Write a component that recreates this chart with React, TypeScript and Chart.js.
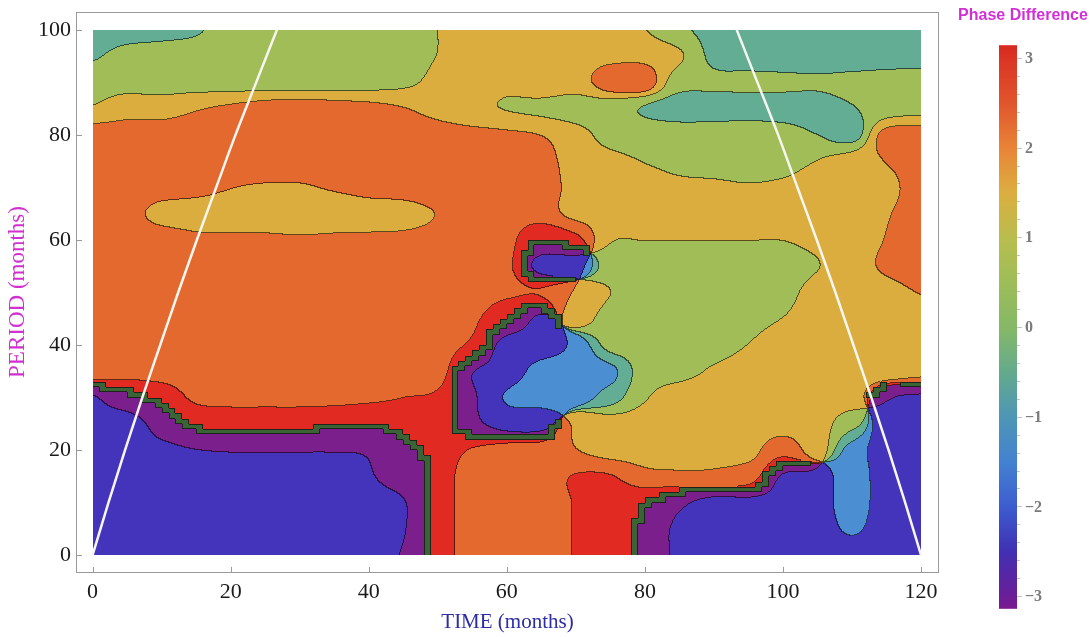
import React, { useEffect, useRef } from "react";
import { Chart, registerables } from "chart.js";

Chart.register(...registerables);

// ---------------- data ----------------
const timeKnots = [0, 5, 10, 15, 20, 25, 30, 35, 40, 45, 50, 55, 60, 65, 70, 75, 80, 85, 90, 95, 100, 105, 110, 115, 120];
const periodKnots = [100, 95, 90, 85, 80, 75, 70, 65, 60, 55, 50, 45, 40, 35, 30, 25, 20, 15, 10, 5, 0];

// phase difference (radians) read at each (period row, time column)
const phaseP100 = [-0.4, -0.4, -0.3, -0.1, 0.35, 0.4, 0.4, 0.4, 0.4, 0.5, 0.78, 1.2, 1.2, 1.2, 1.2, 1.0, 0.8, 0.2, -0.3, -0.4, -0.4, -0.4, -0.4, -0.4, -0.4];
const phaseP95 = [-0.1, 0.3, 0.4, 0.4, 0.4, 0.4, 0.4, 0.4, 0.4, 0.5, 0.8, 1.2, 1.2, 1.2, 1.2, 1.3, 1.3, 0.9, -0.2, -0.3, -0.4, -0.4, -0.4, -0.35, -0.3];
const phaseP90 = [0.5, 0.5, 0.45, 0.4, 0.4, 0.4, 0.4, 0.4, 0.45, 0.6, 1.0, 1.2, 1.0, 1.3, 1.2, 2.0, 2.0, 0.3, 0.15, 0.15, 0.15, 0.1, 0.2, 0.3, 0.35];
const phaseP85 = [0.85, 1.2, 1.2, 1.5, 1.7, 1.9, 2.0, 1.9, 1.8, 1.6, 1.3, 1.0, 0.75, 0.6, 0.4, 0.3, -0.05, -0.3, -0.3, -0.25, -0.3, -0.3, -0.05, 0.3, 0.5];
const phaseP80 = [2.0, 2.0, 2.0, 2.0, 2.0, 2.0, 2.0, 2.0, 2.0, 2.0, 1.9, 1.8, 1.7, 1.55, 1.1, 0.5, 0.4, 0.35, 0.35, 0.35, 0.3, 0.0, -0.3, 1.8, 2.0];
const phaseP75 = [2.0, 2.0, 2.0, 2.0, 2.0, 2.0, 2.0, 2.0, 2.0, 2.0, 2.0, 2.0, 2.0, 1.9, 1.2, 1.0, 0.75, 0.5, 0.4, 0.4, 0.45, 0.8, 1.2, 1.6, 2.0];
const phaseP70 = [2.0, 2.0, 2.0, 1.85, 1.6, 1.5, 1.5, 1.65, 1.8, 1.9, 2.0, 2.0, 2.0, 2.0, 1.3, 1.2, 1.2, 1.0, 0.95, 0.85, 0.95, 1.2, 1.2, 1.3, 2.0];
const phaseP65 = [2.0, 1.9, 1.3, 1.2, 1.2, 1.2, 1.2, 1.2, 1.3, 1.3, 1.6, 2.0, 2.0, 2.0, 1.3, 1.2, 1.2, 1.2, 1.2, 1.2, 1.2, 1.2, 1.2, 1.5, 2.0];
const phaseP60 = [2.0, 2.0, 2.0, 1.75, 1.7, 1.7, 1.65, 1.7, 1.7, 1.75, 1.85, 2.0, 2.1, 3.1, 2.6, 0.85, 0.8, 0.8, 0.8, 0.8, 0.8, 1.0, 1.2, 1.6, 2.0];
const phaseP55 = [2.0, 2.0, 2.0, 2.0, 2.0, 2.0, 2.0, 2.0, 2.0, 2.0, 2.0, 2.0, 2.2, -2.05, -1.85, 0.4, 0.4, 0.4, 0.4, 0.4, 0.4, 0.75, 1.2, 1.7, 2.0];
const phaseP50 = [2.0, 2.0, 2.0, 2.0, 2.0, 2.0, 2.0, 2.0, 2.0, 2.0, 2.0, 2.0, 2.2, 2.3, 1.5, 0.8, 0.4, 0.4, 0.4, 0.4, 0.5, 1.1, 1.2, 1.3, 1.6];
const phaseP45 = [2.0, 2.0, 2.0, 2.0, 2.0, 2.0, 2.0, 2.0, 2.0, 2.0, 2.0, 2.2, 3.0, -2.2, 1.2, 0.4, 0.4, 0.4, 0.4, 0.5, 0.8, 1.2, 1.2, 1.2, 1.3];
const phaseP40 = [2.0, 2.0, 2.0, 2.0, 2.0, 2.0, 2.0, 2.0, 2.0, 2.0, 2.0, 2.5, -2.0, -2.0, -1.4, 0.3, 0.4, 0.4, 0.4, 0.8, 1.2, 1.2, 1.2, 1.2, 1.2];
const phaseP35 = [1.9, 2.0, 2.0, 2.0, 2.0, 2.0, 2.0, 2.0, 2.0, 2.0, 2.0, -2.4, -2.0, -1.3, -1.2, -1.0, 0.4, 0.5, 0.9, 1.2, 1.2, 1.2, 1.2, 1.2, 1.4];
const phaseP30 = [-2.3, -2.9, 2.9, 2.2, 2.1, 2.1, 2.1, 2.1, 2.2, 2.35, 2.5, -2.5, -1.5, -1.3, -1.2, -0.4, 0.7, 1.2, 1.2, 1.2, 1.2, 1.2, 1.2, -2.4, -2.3];
const phaseP25 = [-2.2, -2.0, -2.7, 3.0, 2.9, 2.9, 2.9, 3.05, 3.1, 2.9, 2.8, -2.6, -2.0, -2.0, 1.5, 1.2, 1.2, 1.2, 1.2, 1.2, 1.2, 1.2, 0.3, -2.2, -2.2];
const phaseP20 = [-2.2, -2.2, -2.2, -2.35, -2.4, -2.4, -2.4, -2.4, -2.45, -2.9, 2.9, 2.3, 2.1, 2.0, 1.6, 1.2, 1.2, 1.2, 1.25, 1.3, 2.0, 1.2, -1.1, -2.2, -2.2];
const phaseP15 = [-2.2, -2.2, -2.2, -2.2, -2.2, -2.2, -2.2, -2.2, -2.3, -2.7, 2.9, 1.9, 2.0, 2.0, 2.4, 2.4, 1.8, 1.7, 1.7, 1.9, -2.3, -2.2, -1.0, -2.2, -2.2];
const phaseP10 = [-2.2, -2.2, -2.2, -2.2, -2.2, -2.2, -2.2, -2.2, -2.2, -2.3, 2.9, 1.9, 2.0, 2.0, 2.4, 2.8, 3.05, -2.5, -2.2, -2.2, -2.2, -2.2, -1.0, -2.2, -2.2];
const phaseP5 = [-2.2, -2.2, -2.2, -2.2, -2.2, -2.2, -2.2, -2.2, -2.2, -2.3, 2.9, 1.9, 2.0, 2.0, 2.4, 2.8, -3.0, -2.2, -2.2, -2.2, -2.2, -2.2, -1.4, -2.2, -2.2];
const phaseP0 = [-2.2, -2.2, -2.2, -2.2, -2.2, -2.2, -2.2, -2.2, -2.2, -2.4, 2.9, 1.9, 2.0, 2.0, 2.4, 2.8, -3.0, -2.2, -2.2, -2.2, -2.2, -2.2, -2.1, -2.2, -2.2];

const phaseRows = [
  phaseP100, phaseP95, phaseP90, phaseP85, phaseP80, phaseP75, phaseP70,
  phaseP65, phaseP60, phaseP55, phaseP50, phaseP45, phaseP40, phaseP35,
  phaseP30, phaseP25, phaseP20, phaseP15, phaseP10, phaseP5, phaseP0,
];

// contour band colours, from -pi (first) to +pi (last)
const bandColors = ["#7a1f8c", "#4433bb", "#4b8ed1", "#62ad94", "#a1bd58", "#dbad3f", "#e3692e", "#e02a22"];

// cone of influence
const coiPeriod = [0, 10, 20, 30, 40, 50, 60, 70, 80, 90, 100];
const coiLeftTime = [0, 2.3, 4.7, 7.2, 9.8, 12.4, 15.1, 17.9, 20.7, 23.7, 26.7];
const coiRightTime = [120, 117.7, 115.3, 112.8, 110.2, 107.6, 104.9, 102.1, 99.3, 96.3, 93.3];

const xTicks = [0, 20, 40, 60, 80, 100, 120];
const yTicks = [0, 20, 40, 60, 80, 100];
const colorbarTicks = [3, 2, 1, 0, -1, -2, -3];
const colorbarStopValues = [3.1416, 3, 2.5, 2, 1.5, 1, 0.5, 0, -0.5, -1, -1.5, -2, -2.5, -3, -3.1416];
const colorbarStopColors = ["#d8281f", "#da3424", "#e0552c", "#e98338", "#dcae3f", "#b9bd4e", "#9ebd58", "#86b866", "#64aa8c", "#4d96b6", "#4482d0", "#3d5dcf", "#4030b2", "#6a1e98", "#7c1a8e"];

// ---------------- helpers ----------------
const TWO_PI = Math.PI * 2;

function hexToRgb(h: string) {
  const n = parseInt(h.slice(1), 16);
  return [(n >> 16) & 255, (n >> 8) & 255, n & 255];
}

function catmull(a: number, b: number, c: number, d: number, u: number) {
  return b + 0.5 * u * (c - a + u * (2 * a - 5 * b + 4 * c - d + u * (3 * (b - c) + d - a)));
}

function makeSampler() {
  const nC = timeKnots.length;
  const nR = periodKnots.length;
  const cg = new Float64Array(nC * nR);
  const sg = new Float64Array(nC * nR);
  for (let r = 0; r < nR; r++) {
    for (let c = 0; c < nC; c++) {
      const v = phaseRows[r][c];
      cg[r * nC + c] = Math.cos(v);
      sg[r * nC + c] = Math.sin(v);
    }
  }
  const t0 = timeKnots[0];
  const dt = timeKnots[1] - timeKnots[0];
  const p0 = periodKnots[0];
  const dp = periodKnots[0] - periodKnots[1];
  const cl = (v: number, hi: number) => (v < 0 ? 0 : v > hi ? hi : v);
  const interp = (G: Float64Array, fc: number, fr: number) => {
    let c1 = Math.floor(fc);
    if (c1 > nC - 2) c1 = nC - 2;
    if (c1 < 0) c1 = 0;
    const u = fc - c1;
    let r1 = Math.floor(fr);
    if (r1 > nR - 2) r1 = nR - 2;
    if (r1 < 0) r1 = 0;
    const v = fr - r1;
    const ca = cl(c1 - 1, nC - 1), cb = c1, cc = c1 + 1, cd = cl(c1 + 2, nC - 1);
    const vals = [0, 0, 0, 0];
    for (let k = -1; k <= 2; k++) {
      const base = cl(r1 + k, nR - 1) * nC;
      vals[k + 1] = catmull(G[base + ca], G[base + cb], G[base + cc], G[base + cd], u);
    }
    return catmull(vals[0], vals[1], vals[2], vals[3], v);
  };
  return (t: number, p: number) => {
    const fc = (t - t0) / dt;
    const fr = (p0 - p) / dp;
    return Math.atan2(interp(sg, fc, fr), interp(cg, fc, fr));
  };
}

const sampler = makeSampler();

const fieldPlugin = {
  id: "phaseField",
  beforeDatasetsDraw(chart: any) {
    const xs = chart.scales.x;
    const ys = chart.scales.y;
    const ctx = chart.ctx;
    const tMin = timeKnots[0];
    const tMax = timeKnots[timeKnots.length - 1];
    const pMax = periodKnots[0];
    const pMin = periodKnots[periodKnots.length - 1];
    const X0 = Math.round(xs.getPixelForValue(tMin));
    const X1 = Math.round(xs.getPixelForValue(tMax));
    const Y0 = Math.round(ys.getPixelForValue(pMax));
    const Y1 = Math.round(ys.getPixelForValue(pMin));
    const W = X1 - X0;
    const H = Y1 - Y0;
    const nB = bandColors.length;
    const bw = TWO_PI / nB;

    // coarse 1x1 lattice: mark cells that straddle the +-pi branch cut
    const nT = Math.round(tMax - tMin);
    const nP = Math.round(pMax - pMin);
    const lat = new Float64Array((nT + 1) * (nP + 1));
    for (let j = 0; j <= nP; j++) for (let i = 0; i <= nT; i++) lat[j * (nT + 1) + i] = sampler(tMin + i, pMin + j);
    const wrapCell = new Uint8Array(nT * nP);
    for (let j = 0; j < nP; j++) {
      for (let i = 0; i < nT; i++) {
        const a = lat[j * (nT + 1) + i], b = lat[j * (nT + 1) + i + 1];
        const c = lat[(j + 1) * (nT + 1) + i], d = lat[(j + 1) * (nT + 1) + i + 1];
        const mx = Math.max(a, b, c, d), mn = Math.min(a, b, c, d);
        if (mx > 2.0 && mn < -2.0) wrapCell[j * nT + i] = 1;
      }
    }

    const tx = new Float64Array(W);
    for (let x = 0; x < W; x++) tx[x] = xs.getValueForPixel(X0 + x + 0.5);
    const band = new Int8Array(W * H);
    const wrap = new Uint8Array(W * H);
    for (let y = 0; y < H; y++) {
      const p = ys.getValueForPixel(Y0 + y + 0.5);
      let pj = Math.floor(p - pMin);
      if (pj < 0) pj = 0;
      if (pj > nP - 1) pj = nP - 1;
      for (let x = 0; x < W; x++) {
        const t = tx[x];
        const ph = sampler(t, p);
        let b = Math.floor((ph + Math.PI) / bw);
        if (b < 0) b = 0;
        if (b > nB - 1) b = nB - 1;
        band[y * W + x] = b;
        let ti = Math.floor(t - tMin);
        if (ti < 0) ti = 0;
        if (ti > nT - 1) ti = nT - 1;
        wrap[y * W + x] = wrapCell[pj * nT + ti];
      }
    }

    const rgb = bandColors.map(hexToRgb);
    const wIn = hexToRgb("#3a6336");
    const wEdge = hexToRgb("#1c2419");
    const img = new ImageData(W, H);
    const d = img.data;
    for (let y = 0; y < H; y++) {
      for (let x = 0; x < W; x++) {
        const k = y * W + x;
        let col: number[];
        let f = 1;
        if (wrap[k]) {
          const edge =
            (x > 0 && !wrap[k - 1]) || (x < W - 1 && !wrap[k + 1]) ||
            (y > 0 && !wrap[k - W]) || (y < H - 1 && !wrap[k + W]);
          col = edge ? wEdge : wIn;
        } else {
          const b = band[k];
          col = rgb[b];
          const line =
            (x < W - 1 && band[k + 1] !== b && !wrap[k + 1]) ||
            (y < H - 1 && band[k + W] !== b && !wrap[k + W]);
          if (line) f = 0.42;
        }
        d[4 * k] = col[0] * f;
        d[4 * k + 1] = col[1] * f;
        d[4 * k + 2] = col[2] * f;
        d[4 * k + 3] = 255;
      }
    }
    const off = document.createElement("canvas");
    off.width = W;
    off.height = H;
    (off.getContext("2d") as CanvasRenderingContext2D).putImageData(img, 0, 0);
    ctx.drawImage(off, X0, Y0);
  },
};

const decorPlugin = {
  id: "decor",
  afterDraw(chart: any) {
    const ctx: CanvasRenderingContext2D = chart.ctx;
    const ca = chart.chartArea;
    const xs = chart.scales.x;
    const ys = chart.scales.y;
    ctx.save();
    // frame
    ctx.strokeStyle = "#9a9a9a";
    ctx.lineWidth = 1;
    ctx.strokeRect(ca.left + 0.5, ca.top + 0.5, ca.right - ca.left - 1, ca.bottom - ca.top - 1);
    ctx.beginPath();
    for (const v of xTicks) {
      const x = Math.round(xs.getPixelForValue(v)) + 0.5;
      ctx.moveTo(x, ca.bottom - 1);
      ctx.lineTo(x, ca.bottom - 6);
    }
    for (const v of yTicks) {
      const y = Math.round(ys.getPixelForValue(v)) + 0.5;
      ctx.moveTo(ca.left + 1, y);
      ctx.lineTo(ca.left + 6, y);
    }
    ctx.stroke();

    // axis titles
    ctx.fillStyle = "#2c2ca6";
    ctx.font = "21px 'Liberation Serif', 'Times New Roman', serif";
    ctx.textAlign = "center";
    ctx.textBaseline = "middle";
    ctx.fillText("TIME (months)", (ca.left + ca.right) / 2, 622);
    ctx.save();
    ctx.translate(18, 292);
    ctx.rotate(-Math.PI / 2);
    ctx.fillStyle = "#d030d0";
    ctx.font = "23px 'Liberation Serif', 'Times New Roman', serif";
    ctx.fillText("PERIOD (months)", 0, 0);
    ctx.restore();

    // colour bar
    const cbL = 999, cbR = 1017;
    const vToY = (v: number) => 327 - v * 89.7;
    const top = vToY(Math.PI), bot = vToY(-Math.PI);
    const g = ctx.createLinearGradient(0, top, 0, bot);
    colorbarStopValues.forEach((v, i) => {
      const f = (vToY(v) - top) / (bot - top);
      g.addColorStop(Math.min(1, Math.max(0, f)), colorbarStopColors[i]);
    });
    ctx.fillStyle = g;
    ctx.fillRect(cbL, top, cbR - cbL, bot - top);
    ctx.strokeStyle = "#c4c4c4";
    ctx.beginPath();
    for (let k = -15; k <= 15; k++) {
      const v = k * 0.2;
      const y = Math.round(vToY(v)) + 0.5;
      const major = k % 5 === 0;
      ctx.moveTo(cbR, y);
      ctx.lineTo(cbR + (major ? 5 : 3), y);
    }
    ctx.stroke();
    ctx.fillStyle = "#7a7a7a";
    ctx.font = "bold 16px 'Liberation Serif', 'Times New Roman', serif";
    ctx.textAlign = "left";
    ctx.textBaseline = "middle";
    for (const v of colorbarTicks) {
      const lbl = v < 0 ? "\u2212" + Math.abs(v) : String(v);
      ctx.fillText(lbl, 1025, vToY(v) + 1);
    }
    ctx.fillStyle = "#d030d6";
    ctx.font = "bold 16px 'Liberation Sans', Arial, sans-serif";
    ctx.textAlign = "center";
    ctx.fillText("Phase Difference", 1023, 16);
    ctx.restore();
  },
};

export default function App() {
  const ref = useRef<HTMLCanvasElement>(null);
  useEffect(() => {
    const canvas = ref.current;
    if (!canvas) return;
    const tickFont = { family: "'Liberation Serif', 'Times New Roman', serif", size: 22 };
    const chart = new Chart(canvas, {
      type: "scatter",
      data: {
        datasets: [
          {
            data: coiLeftTime.map((t, i) => ({ x: t, y: coiPeriod[i] })),
            showLine: true,
            borderColor: "#f7f7f2",
            borderWidth: 2.5,
            pointRadius: 0,
            cubicInterpolationMode: "monotone",
          },
          {
            data: coiRightTime.map((t, i) => ({ x: t, y: coiPeriod[i] })),
            showLine: true,
            borderColor: "#f7f7f2",
            borderWidth: 2.5,
            pointRadius: 0,
            cubicInterpolationMode: "monotone",
          },
        ],
      },
      options: {
        animation: false,
        responsive: false,
        devicePixelRatio: 1,
        layout: { padding: { left: 0, right: 152, top: 12, bottom: 0 } },
        plugins: { legend: { display: false }, tooltip: { enabled: false } },
        events: [],
        scales: {
          x: {
            type: "linear",
            min: -2.4,
            max: 122.6,
            grid: { display: false, drawTicks: false },
            border: { display: false },
            ticks: { font: tickFont, color: "#1a1a1a", padding: 6, maxRotation: 0, autoSkip: false },
            afterBuildTicks: (s: any) => {
              s.ticks = xTicks.map((v) => ({ value: v }));
            },
            afterFit: (s: any) => {
              s.height = 64;
              s.paddingLeft = 0;
              s.paddingRight = 0;
            },
          },
          y: {
            type: "linear",
            min: -3.4,
            max: 103.4,
            grid: { display: false, drawTicks: false },
            border: { display: false },
            ticks: { font: tickFont, color: "#1a1a1a", padding: 5, autoSkip: false },
            afterBuildTicks: (s: any) => {
              s.ticks = yTicks.map((v) => ({ value: v }));
            },
            afterFit: (s: any) => {
              s.width = 76;
              s.paddingTop = 0;
              s.paddingBottom = 0;
            },
          },
        },
      },
      plugins: [fieldPlugin, decorPlugin],
    } as any);
    return () => chart.destroy();
  }, []);
  return (
    <div style={{ position: "absolute", left: 0, top: 0, width: 1091, height: 637, background: "#fff" }}>
      <canvas ref={ref} width={1091} height={637} style={{ display: "block", width: 1091, height: 637 }} />
    </div>
  );
}
